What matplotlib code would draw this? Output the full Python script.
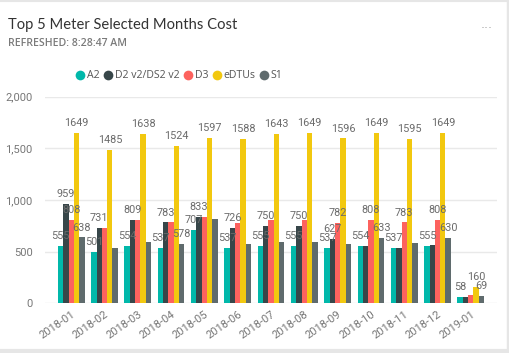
import matplotlib
matplotlib.use("Agg")
import matplotlib.pyplot as plt
from matplotlib.lines import Line2D
import numpy as np

months = ["2018-01", "2018-02", "2018-03", "2018-04", "2018-05", "2018-06", "2018-07",
          "2018-08", "2018-09", "2018-10", "2018-11", "2018-12", "2019-01"]
series_names = ["A2", "D2 v2/DS2 v2", "D3", "eDTUs", "S1"]
a2 = [555, 501, 554, 537, 707, 537, 555, 555, 537, 554, 537, 555, 58]
d2 = [959, 731, 809, 783, 833, 726, 750, 750, 627, 558, 540, 560, 58]
d3 = [808, 731, 809, 783, 831, 781, 805, 805, 782, 808, 783, 808, 77]
edtus = [1649, 1485, 1638, 1524, 1597, 1588, 1643, 1649, 1596, 1649, 1595, 1649, 160]
s1 = [638, 536, 594, 578, 814, 577, 594, 594, 574, 633, 584, 630, 69]
# which data labels are visible (Power BI hides overlapping ones)
show_a2 = [1, 1, 1, 1, 1, 1, 1, 1, 1, 1, 1, 1, 1]
show_d2 = [1, 1, 1, 1, 1, 1, 1, 1, 1, 0, 0, 0, 0]
show_d3 = [1, 0, 0, 0, 0, 0, 0, 0, 1, 1, 1, 1, 0]
show_ed = [1, 1, 1, 1, 1, 1, 1, 1, 1, 1, 1, 1, 1]
show_s1 = [1, 0, 0, 1, 0, 0, 0, 0, 0, 1, 0, 1, 1]
yticks = [0, 500, 1000, 1500, 2000]
ytick_labels = ["0", "500", "1,000", "1,500", "2,000"]

colors = ["#01B8AA", "#374649", "#FD625E", "#F2C80F", "#5F6B6D"]
all_series = [a2, d2, d3, edtus, s1]
all_show = [show_a2, show_d2, show_d3, show_ed, show_s1]

W, H = 510, 353
fig = plt.figure(figsize=(W / 100, H / 100), dpi=100)
fig.patch.set_facecolor("white")

ax = fig.add_axes([45 / W, 1 - 303.3 / H, (497 - 45) / W, (303.3 - 96.7) / H])
ax.set_facecolor("white")
x = np.arange(len(months))
bw = 0.16
lab_font = "Roboto"
for i, (vals, show, c) in enumerate(zip(all_series, all_show, colors)):
    pos = x + (i - 2) * bw
    ax.bar(pos, vals, width=bw, color=c, zorder=3, linewidth=0)
    for p, v, s in zip(pos, vals, show):
        if s:
            ax.annotate(str(v), (p, v), xytext=(0, 3.5), textcoords="offset points",
                        ha="center", va="bottom", fontsize=7.8, color="#6b6b6b",
                        family=lab_font, zorder=5)

ax.set_xlim(-0.787, 12.787)
ax.set_ylim(0, 2000)
ax.set_yticks(yticks)
ax.set_yticklabels(ytick_labels, family=lab_font, fontsize=8, color="#777777")
ax.set_xticks(x)
ax.set_xticklabels(months, rotation=35, ha="right", rotation_mode="anchor",
                   family=lab_font, fontsize=8, color="#777777")
ax.tick_params(axis="both", length=0)
ax.tick_params(axis="y", pad=9)
ax.tick_params(axis="x", pad=4)
for sp in ax.spines.values():
    sp.set_visible(False)
ax.grid(axis="y", color="#e9e9e9", linewidth=1, zorder=0)
ax.set_axisbelow(True)

fig.text(8 / W, 1 - 25 / H, "Top 5 Meter Selected Months Cost", fontsize=10.6,
         color="#333333", family="Lato", va="center", ha="left")
fig.text(8 / W, 1 - 43.5 / H, "REFRESHED: 8:28:47 AM", fontsize=7.6, fontweight="semibold",
         color="#7a7a7a", family="Open Sans", va="center", ha="left")
fig.text(487 / W, 1 - 24 / H, "...", fontsize=9, color="#aaaaaa", ha="center", va="center")

handles = [Line2D([], [], marker="o", linestyle="none", markersize=7, markerfacecolor=c,
                  markeredgewidth=0) for c in colors]
leg = fig.legend(handles, series_names, loc="center left", bbox_to_anchor=(74 / W, 1 - 76 / H),
                 ncol=5, frameon=False, handletextpad=0.0, columnspacing=0.25,
                 handlelength=1.2, prop={"family": "Open Sans", "size": 7.6}, borderaxespad=0,
                 borderpad=0)
for t in leg.get_texts():
    t.set_color("#555555")

# card border
fig.add_artist(Line2D([0, 1], [1 - 1 / H, 1 - 1 / H], color="#e6e6e6", linewidth=1.5,
                      transform=fig.transFigure))
fig.add_artist(Line2D([1 - 2 / W, 1 - 2 / W], [0, 1], color="#e6e6e6", linewidth=2.5,
                      transform=fig.transFigure))
fig.add_artist(Line2D([0, 1], [2 / H, 2 / H], color="#e6e6e6", linewidth=3,
                      transform=fig.transFigure))

fig.savefig("out.png", dpi=100, facecolor="white")
